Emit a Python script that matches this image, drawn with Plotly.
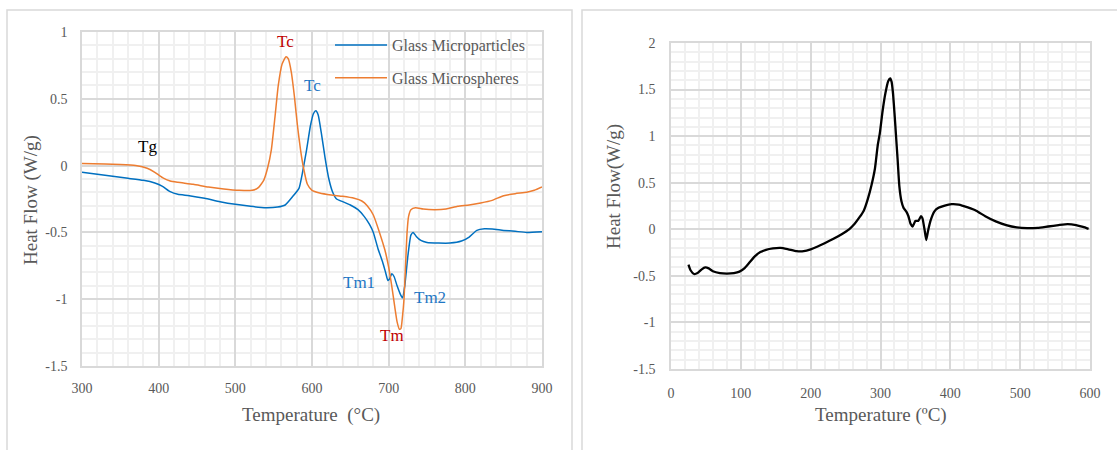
import plotly.graph_objects as go

# ---------------- Data ----------------
# Left panel: DSC of glass samples
micro_particles_T = [300, 320, 340, 360, 380, 395, 405, 415, 425, 440, 460, 480, 500, 520, 540, 555, 565,
                     575, 583, 588, 593, 598, 602, 605, 608, 612, 617, 622, 627, 632, 640, 650, 660, 668,
                     675, 680, 686, 692, 696, 699, 701, 704, 707, 711, 715, 718, 721, 725, 729, 732, 736,
                     742, 750, 765, 780, 795, 805, 815, 825, 835, 850, 865, 880, 900]
micro_particles_hf = [-0.05, -0.065, -0.08, -0.095, -0.11, -0.13, -0.155, -0.195, -0.215, -0.225, -0.245,
                      -0.27, -0.29, -0.305, -0.315, -0.31, -0.295, -0.23, -0.17, -0.04, 0.12, 0.3, 0.39,
                      0.41, 0.38, 0.25, 0.06, -0.1, -0.2, -0.25, -0.27, -0.295, -0.33, -0.38, -0.44, -0.5,
                      -0.62, -0.72, -0.8, -0.86, -0.85, -0.81, -0.83, -0.9, -0.96, -0.99, -0.9, -0.68,
                      -0.52, -0.5, -0.53, -0.56, -0.575, -0.58, -0.58, -0.565, -0.535, -0.485, -0.473,
                      -0.475, -0.485, -0.492, -0.5, -0.495]

micro_spheres_T = [300, 330, 350, 370, 385, 395, 405, 415, 425, 445, 465, 485, 505, 522, 530, 537, 542,
                   547, 552, 556, 561, 566, 569, 573, 577, 581, 585, 589, 594, 600, 610, 625, 640, 655,
                   665, 672, 680, 688, 695, 700, 704, 708, 711, 714, 716, 718, 720, 722, 724, 726, 729,
                   735, 745, 760, 775, 790, 805, 820, 835, 850, 865, 880, 890, 900]
micro_spheres_hf = [0.015, 0.012, 0.008, 0.0, -0.02, -0.05, -0.09, -0.115, -0.125, -0.14, -0.16, -0.175,
                    -0.185, -0.185, -0.165, -0.11, -0.02, 0.12, 0.38, 0.6, 0.76, 0.815, 0.8, 0.7, 0.52,
                    0.3, 0.12, -0.02, -0.14, -0.185, -0.205, -0.22, -0.23, -0.245, -0.265, -0.3, -0.37,
                    -0.5, -0.63, -0.76, -0.9, -1.06, -1.17, -1.225, -1.22, -1.13, -1.0, -0.75, -0.5,
                    -0.38, -0.33, -0.315, -0.325, -0.33, -0.325, -0.305, -0.295, -0.28, -0.26, -0.225,
                    -0.21, -0.2, -0.185, -0.16]

# Right panel: single DSC curve
right_T = [25, 28, 33, 38, 44, 49, 54, 60, 70, 80, 90, 98, 105, 112, 120, 128, 136, 146, 157, 168, 180,
           190, 200, 210, 220, 232, 245, 255, 263, 270, 276, 282, 287, 292, 296, 299, 303, 307, 311, 314,
           316, 318, 320, 322, 324.5, 327, 330, 333, 337, 340, 343, 346, 348, 350, 354, 358, 360, 363,
           365.5, 368, 372, 377, 383, 392, 402, 412, 425, 437, 450, 465, 480, 495, 510, 525, 540, 555,
           568, 580, 590, 598]
right_hf = [-0.38, -0.44, -0.48, -0.47, -0.43, -0.41, -0.42, -0.45, -0.47, -0.475, -0.47, -0.455, -0.42,
            -0.36, -0.29, -0.245, -0.22, -0.205, -0.2, -0.215, -0.235, -0.235, -0.215, -0.185, -0.15,
            -0.105, -0.05, 0.0, 0.06, 0.13, 0.2, 0.33, 0.47, 0.65, 0.9, 1.03, 1.27, 1.46, 1.59, 1.62,
            1.58, 1.45, 1.25, 1.03, 0.75, 0.46, 0.3, 0.23, 0.19, 0.14, 0.06, 0.03, 0.06, 0.09, 0.09,
            0.14, 0.12, 0.0, -0.115, -0.02, 0.1, 0.19, 0.23, 0.255, 0.27, 0.265, 0.235, 0.2, 0.14,
            0.085, 0.045, 0.02, 0.012, 0.015, 0.03, 0.045, 0.055, 0.045, 0.025, 0.005]

left_y_ticks = [-1.5, -1, -0.5, 0, 0.5, 1]
left_y_ticktext = ["-1.5", "-1", "-0.5", "0", "0.5", "1"]
right_y_ticks = [-1.5, -1, -0.5, 0, 0.5, 1, 1.5, 2]
right_y_ticktext = ["-1.5", "-1", "-0.5", "0", "0.5", "1", "1.5", "2"]
left_x_ticks = [300, 400, 500, 600, 700, 800, 900]
right_x_ticks = [0, 100, 200, 300, 400, 500, 600]

# Peak labels: (text, T, heat flow, colour)
peak_labels = [("Tc", 566, 0.93, "#C00000"),
               ("Tc", 601, 0.60, "#1F77C4"),
               ("Tg", 385, 0.14, "#000000"),
               ("Tm1", 661, -0.875, "#1F77C4"),
               ("Tm2", 754, -0.99, "#1F77C4"),
               ("Tm", 704, -1.275, "#C00000")]

# ---------------- Figure ----------------
W, H = 1117, 450
FONT = "Liberation Serif"
GREY = "#595959"
MAJOR = "#D9D9D9"
MINOR = "#F0F0F0"

def px_x(p):
    return p / W

def px_y(p):
    return 1 - p / H

fig = go.Figure()

fig.add_trace(go.Scatter(x=micro_particles_T, y=micro_particles_hf, mode="lines",
                         name="Glass Microparticles", legendgroup="a",
                         line=dict(color="#0070C0", width=1.5, shape="spline", smoothing=0.5),
                         xaxis="x", yaxis="y"))
fig.add_trace(go.Scatter(x=micro_spheres_T, y=micro_spheres_hf, mode="lines",
                         name="Glass Microspheres", legendgroup="b",
                         line=dict(color="#ED7D31", width=1.5, shape="spline", smoothing=0.5),
                         xaxis="x", yaxis="y"))
fig.add_trace(go.Scatter(x=right_T, y=right_hf, mode="lines", showlegend=False,
                         line=dict(color="#000000", width=2.3, shape="spline", smoothing=0.5),
                         xaxis="x2", yaxis="y2"))

axis_common = dict(showgrid=True, gridcolor=MAJOR, gridwidth=1.5, zeroline=False,
                   showline=True, linecolor=MAJOR, linewidth=1.5, mirror=True,
                   ticks="outside", tickcolor="rgba(0,0,0,0)", automargin=False,
                   tickfont=dict(family=FONT, size=14, color=GREY))

fig.update_layout(
    template="none",
    width=W, height=H,
    margin=dict(l=0, r=0, t=0, b=0, pad=0, autoexpand=False),
    paper_bgcolor="white", plot_bgcolor="white",
    font=dict(family=FONT, color=GREY),
    xaxis=dict(domain=[px_x(82), px_x(542)], range=[300, 900], tickvals=left_x_ticks, ticklen=8,
               minor=dict(dtick=20, showgrid=True, gridcolor=MINOR, gridwidth=1.5), anchor="y",
               **axis_common),
    yaxis=dict(domain=[px_y(366), px_y(32)], range=[-1.5, 1], tickvals=left_y_ticks,
               ticktext=left_y_ticktext, ticklen=10,
               minor=dict(dtick=0.1, showgrid=True, gridcolor=MINOR, gridwidth=1.5), anchor="x",
               **axis_common),
    xaxis2=dict(domain=[px_x(671), px_x(1090)], range=[0, 600], tickvals=right_x_ticks, ticklen=10,
                minor=dict(dtick=20, showgrid=True, gridcolor=MINOR, gridwidth=1.5), anchor="y2",
                **axis_common),
    yaxis2=dict(domain=[px_y(369), px_y(43)], range=[-1.5, 2], tickvals=right_y_ticks,
                ticktext=right_y_ticktext, ticklen=11,
                minor=dict(dtick=0.1, showgrid=True, gridcolor=MINOR, gridwidth=1.5), anchor="x2",
                **axis_common),
    legend=dict(x=px_x(330), y=px_y(28), xanchor="left", yanchor="top",
                bgcolor="rgba(0,0,0,0)", font=dict(family=FONT, size=16, color=GREY),
                itemwidth=52, tracegroupgap=9, traceorder="grouped"),
    showlegend=True,
)

# Panel borders
fig.add_shape(type="rect", xref="paper", yref="paper", x0=px_x(7), x1=px_x(572), y0=-0.2, y1=px_y(10),
              line=dict(color=MAJOR, width=1.5), fillcolor="rgba(0,0,0,0)", layer="below")
fig.add_shape(type="rect", xref="paper", yref="paper", x0=px_x(582), x1=1.2, y0=-0.2, y1=px_y(10),
              line=dict(color=MAJOR, width=1.5), fillcolor="rgba(0,0,0,0)", layer="below")

# Peak labels
for text, t, v, c in peak_labels:
    fig.add_annotation(x=t, y=v, xref="x", yref="y", text=text, showarrow=False,
                       xanchor="center", yanchor="middle",
                       font=dict(family=FONT, size=17, color=c))

# Axis titles
titles = [("Temperature  (°C)", 311, 415, 0), ("Heat Flow (W/g)", 31, 200, -90),
          ("Temperature (ºC)", 881, 415, 0), ("Heat Flow(W/g)", 614, 187, -90)]
for text, x, y, ang in titles:
    fig.add_annotation(x=px_x(x), y=px_y(y), xref="paper", yref="paper", text=text,
                       showarrow=False, textangle=ang, xanchor="center", yanchor="middle",
                       font=dict(family=FONT, size=19, color=GREY))

fig.write_html("out.html", config={"displayModeBar": False},
               post_script="document.body.style.margin='0';document.body.style.overflow='hidden';")
